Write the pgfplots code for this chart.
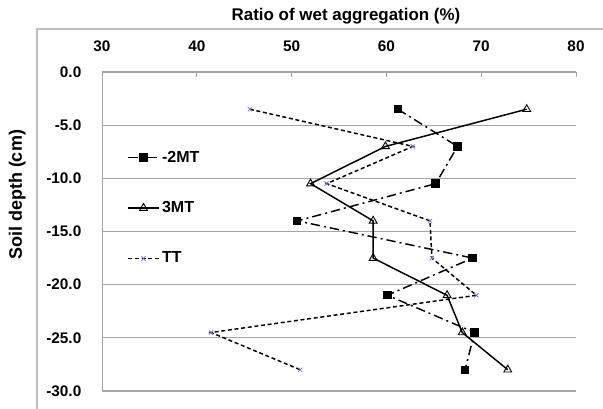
\documentclass[border=0pt]{standalone}
\usepackage{pgfplots}
\pgfplotsset{compat=1.18}
\usepackage{fontspec}
\setmainfont{Liberation Sans}
\definecolor{gridgray}{RGB}{165,165,165}
\definecolor{framegray}{RGB}{190,190,190}
\definecolor{ttpurple}{RGB}{130,110,200}
\begin{document}
\begin{tikzpicture}
\path[use as bounding box] (0,0) rectangle (452.25pt,306.75pt);
% outer chart frame (top and left edges)
\draw[framegray, line width=0.8pt] (27.75pt,0pt) -- (27.75pt,285pt) -- (452.25pt,285pt);
% title and y label
\node[font=\bfseries\fontsize{12.7}{15}\selectfont] at (259.5pt,294.75pt) {Ratio of wet aggregation (\%)};
\node[font=\bfseries\fontsize{13.5}{16}\selectfont, rotate=90] at (13pt,160.5pt) {Soil depth (cm)};
\begin{axis}[
  at={(76.5pt,13.5pt)}, anchor=south west,
  scale only axis, width=355.5pt, height=239.25pt,
  xmin=30, xmax=80, ymin=-30, ymax=0,
  axis x line*=top, axis y line*=left,
  axis line style={gridgray, -},
  xtick={30,40,50,60,70,80},
  ytick={0,-5,-10,-15,-20,-25,-30},
  tick align=inside,
  x tick style={gridgray, line width=0.6pt},
  major tick length=3.75pt,
  y tick style={draw=none},
  ymajorgrids, grid style={gridgray, line width=0.8pt},
  xticklabel shift=12pt,
  yticklabel shift=12pt,
  tick label style={font=\bfseries\fontsize{11.5}{13}\selectfont},
  /pgf/number format/assume math mode=true,
  yticklabel style={/pgf/number format/.cd, fixed, zerofill, precision=1},
  xticklabel style={/pgf/number format/.cd, fixed, precision=0},
  clip=false,
  legend cell align=left,
  legend style={draw=none, fill=none, at={(0.045,0.77)}, anchor=north west,
    font=\bfseries\fontsize{12}{13}\selectfont, row sep=24pt},
  legend image code/.code={\draw[mark repeat=2,mark phase=2,#1] plot coordinates {(0cm,0cm) (0.4cm,0cm) (0.8cm,0cm)};},
]
\addplot[black, line width=1.1pt, dash pattern=on 7pt off 3pt on 1.5pt off 3pt,
  mark=square*, mark size=2.6pt, mark options={solid}]
coordinates {(61.2,-3.5) (67.5,-7) (65.2,-10.5) (50.6,-14) (69.1,-17.5) (60.1,-21) (69.3,-24.5) (68.3,-28)};
\addlegendentry{-2MT}
\addplot[black, line width=1.1pt, mark=triangle, mark size=3.4pt, mark options={solid, fill=white, line width=0.7pt}]
coordinates {(74.8,-3.5) (59.9,-7) (52.0,-10.5) (58.6,-14) (58.6,-17.5) (66.4,-21) (68.0,-24.5) (72.8,-28)};
\addlegendentry{3MT}
\addplot[black, line width=1.1pt, dash pattern=on 3pt off 2pt,
  mark=x, mark size=2.2pt, mark options={solid, ttpurple, line width=0.6pt}]
coordinates {(45.6,-3.5) (62.8,-7) (53.7,-10.5) (64.6,-14) (64.8,-17.5) (69.5,-21) (41.5,-24.5) (50.9,-28)};
\addlegendentry{TT}
\end{axis}
\end{tikzpicture}
\end{document}
